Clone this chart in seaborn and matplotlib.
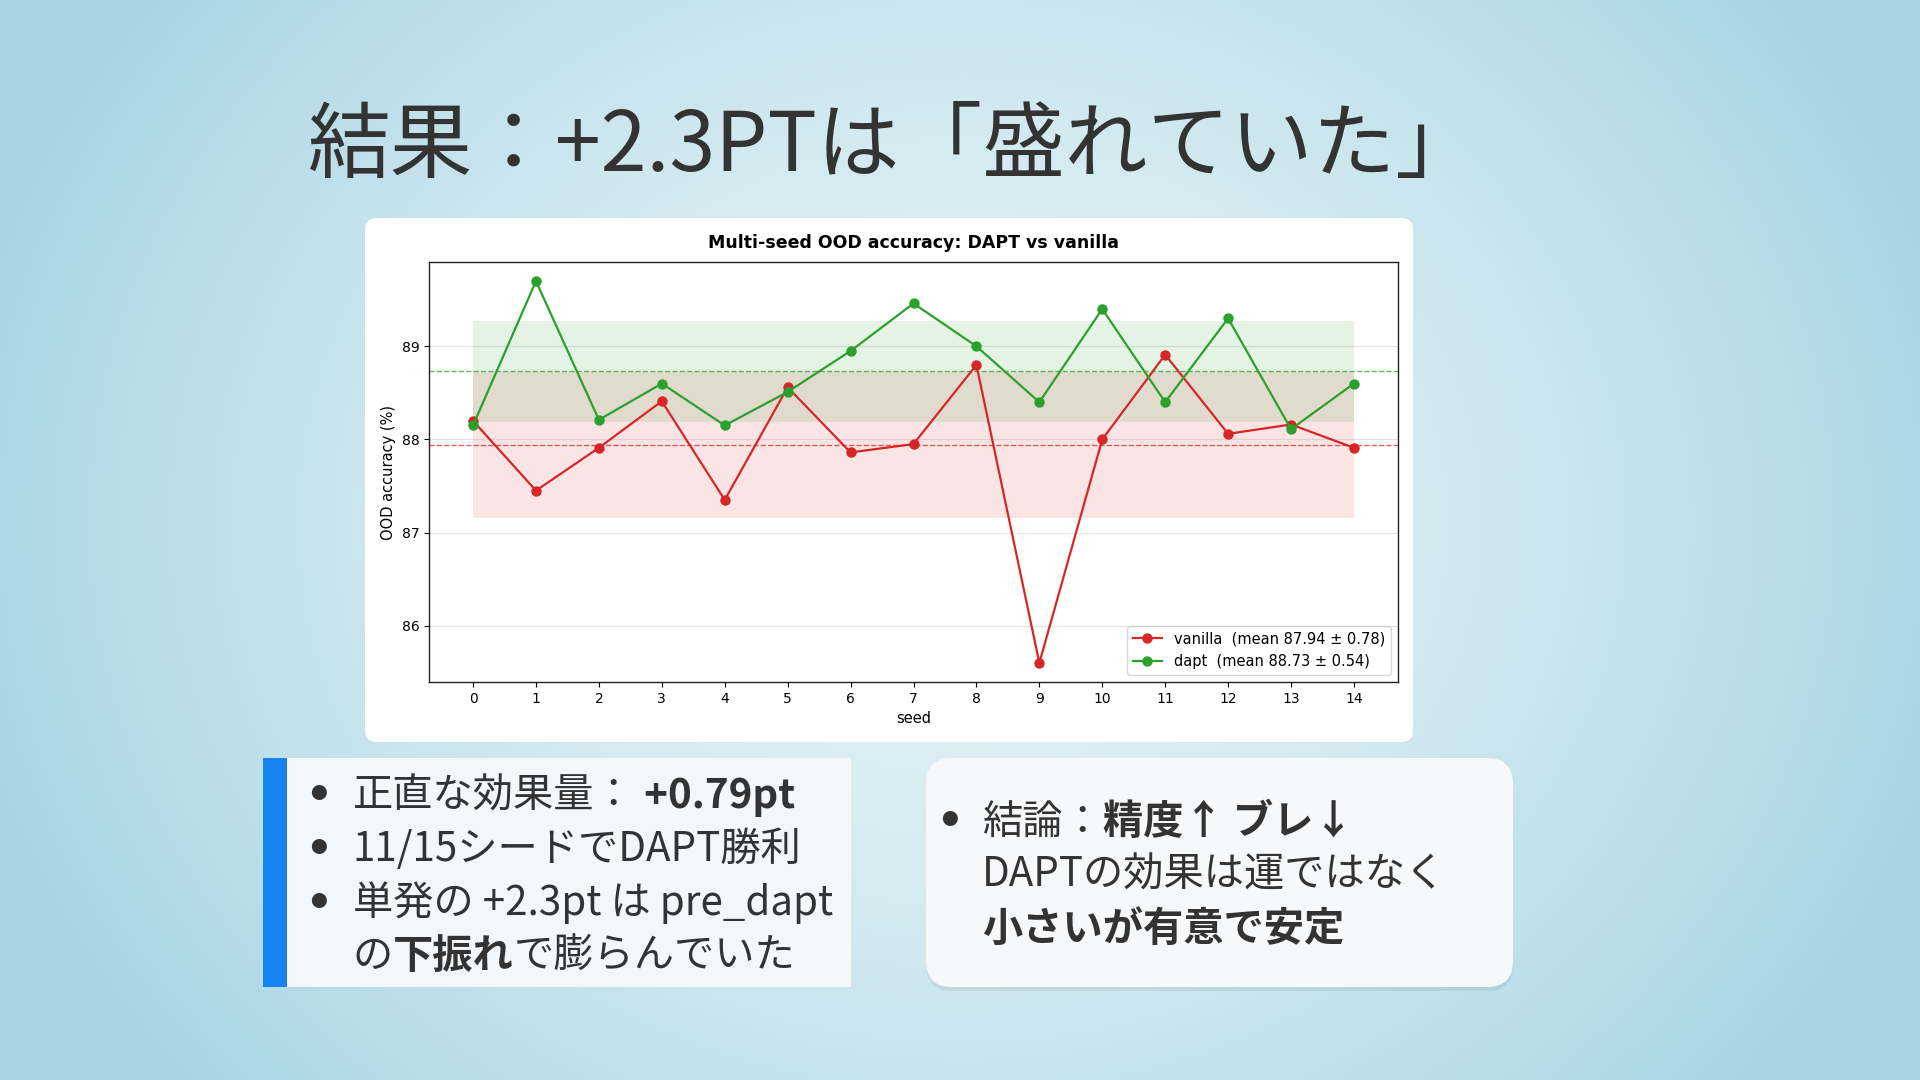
import numpy as np
import pandas as pd
import matplotlib
matplotlib.use("Agg")
import matplotlib.pyplot as plt
import seaborn as sns
from matplotlib.patches import FancyBboxPatch, Rectangle

# ---------------- data ----------------
seeds = list(range(15))
vanilla = [88.20, 87.45, 87.91, 88.41, 87.35, 88.56, 87.86, 87.95, 88.80, 85.60,
           88.00, 88.91, 88.06, 88.16, 87.91]
dapt = [88.15, 89.70, 88.21, 88.60, 88.15, 88.51, 88.95, 89.46, 89.00, 88.40,
        89.40, 88.40, 89.30, 88.11, 88.60]
series_names = ["vanilla", "dapt"]
series_means = [87.94, 88.73]
series_stds = [0.78, 0.54]
y_ticks = [86, 87, 88, 89]

slide_title = "結果：+2.3PTは「盛れていた」"
chart_title = "Multi-seed OOD accuracy: DAPT vs vanilla"
x_label = "seed"
y_label = "OOD accuracy (%)"
left_lines = [
    [("正直な効果量：", False), (" +0.79pt", True)],
    [("11/15シードでDAPT勝利", False)],
    [("単発の +2.3pt は pre_dapt", False)],
    [("の", False), ("下振れ", True), ("で膨らんでいた", False)],
]
left_bullets = [True, True, True, False]
right_lines = [
    [("結論：", False), ("精度↑ ブレ↓", True)],
    [("DAPTの効果は運ではなく", False)],
    [("小さいが有意で安定", True)],
]
right_bullets = [True, False, False]

# ---------------- figure ----------------
W, H = 1920, 1080
fig = plt.figure(figsize=(19.2, 10.8), dpi=100)
JP = ["Noto Sans CJK JP", "DejaVu Sans"]
TXT = "#333333"

bg = fig.add_axes([0, 0, 1, 1])
bg.set_xlim(0, W)
bg.set_ylim(H, 0)
bg.axis("off")

# radial background gradient
yy, xx = np.mgrid[0:H:4, 0:W:4]
t = np.sqrt(((xx - 960) / 1050.0) ** 2 + ((yy - 520) / 900.0) ** 2)
t = np.clip(t, 0, 1) ** 1.6
center = np.array([228, 242, 246]) / 255.0
edge = np.array([164, 211, 226]) / 255.0
img = center[None, None, :] * (1 - t[..., None]) + edge[None, None, :] * t[..., None]
bg.imshow(img, extent=(0, W, H, 0), aspect="auto", zorder=0, interpolation="bilinear")

# chart card
bg.add_patch(FancyBboxPatch((365, 218), 1048, 524,
                            boxstyle="round,pad=0,rounding_size=12",
                            fc="white", ec="none", zorder=1))
# left text box
bg.add_patch(Rectangle((263, 758), 588, 229, fc="#f4f7f9", ec="none", zorder=1))
bg.add_patch(Rectangle((263, 758), 24, 229, fc="#1683f0", ec="none", zorder=2))
# right text box with soft shadow
bg.add_patch(FancyBboxPatch((926, 762), 587, 229,
                            boxstyle="round,pad=0,rounding_size=26",
                            fc=(0, 0, 0, 0.06), ec="none", zorder=1))
bg.add_patch(FancyBboxPatch((926, 758), 587, 229,
                            boxstyle="round,pad=0,rounding_size=26",
                            fc="#f6f8fa", ec="none", zorder=2))

# slide title
bg.text(308, 171, slide_title, fontsize=59.5, family=JP, color=TXT,
        va="baseline", ha="left", zorder=3)

renderer = fig.canvas.get_renderer()


def draw_runs(x, y, parts, size):
    for txt, bold in parts:
        tt = bg.text(x, y, txt, fontsize=size, family=JP, color=TXT,
                     fontweight="bold" if bold else "normal",
                     va="baseline", ha="left", zorder=3)
        x += tt.get_window_extent(renderer).width


def draw_bullet(x, yb):
    bg.text(x, yb - 13, "●", fontsize=12, family=JP, color=TXT,
            va="center", ha="center", zorder=3)


FS = 29
left_base = [808, 861, 915, 968]
for parts, bullet, yb in zip(left_lines, left_bullets, left_base):
    if bullet:
        draw_bullet(318, yb)
    draw_runs(353, yb, parts, FS)

right_base = [834, 887, 941]
for parts, bullet, yb in zip(right_lines, right_bullets, right_base):
    if bullet:
        draw_bullet(949, yb)
    draw_runs(982, yb, parts, FS)

# ---------------- chart ----------------
ax = fig.add_axes([429 / W, 1 - 682 / H, (1398 - 429) / W, (682 - 262) / H])
ax.set_facecolor("white")
colors = ["#d62728", "#2ca02c"]
values = [vanilla, dapt]

for vals, c, m, s in zip(values, colors, series_means, series_stds):
    ax.fill_between(seeds, m - s, m + s, color=c, alpha=0.12, lw=0, zorder=1)
    ax.axhline(m, color=c, ls="--", lw=1.0, alpha=0.75, zorder=2)

for name, vals, c, m, s in zip(series_names, values, colors, series_means, series_stds):
    df = pd.DataFrame({"seed": seeds, "acc": vals})
    sns.lineplot(data=df, x="seed", y="acc", color=c, marker="o",
                 markersize=7.5, markeredgewidth=0, linewidth=1.6,
                 label=f"{name}  (mean {m:.2f} ± {s:.2f})", ax=ax, zorder=3)

ax.set_xticks(seeds)
ax.set_yticks(y_ticks)
ax.tick_params(labelsize=10)
ax.grid(axis="y", color="#cccccc", alpha=0.5, lw=1)
ax.set_axisbelow(True)
ax.set_xlabel(x_label, fontsize=10.5)
ax.set_ylabel(y_label, fontsize=10.5)
ax.set_title(chart_title, fontsize=12.5, fontweight="bold", pad=10)
ax.legend(loc="lower right", fontsize=10.5)
for sp in ax.spines.values():
    sp.set_color("#222222")
    sp.set_linewidth(1.0)

fig.savefig("out.png", dpi=100)
